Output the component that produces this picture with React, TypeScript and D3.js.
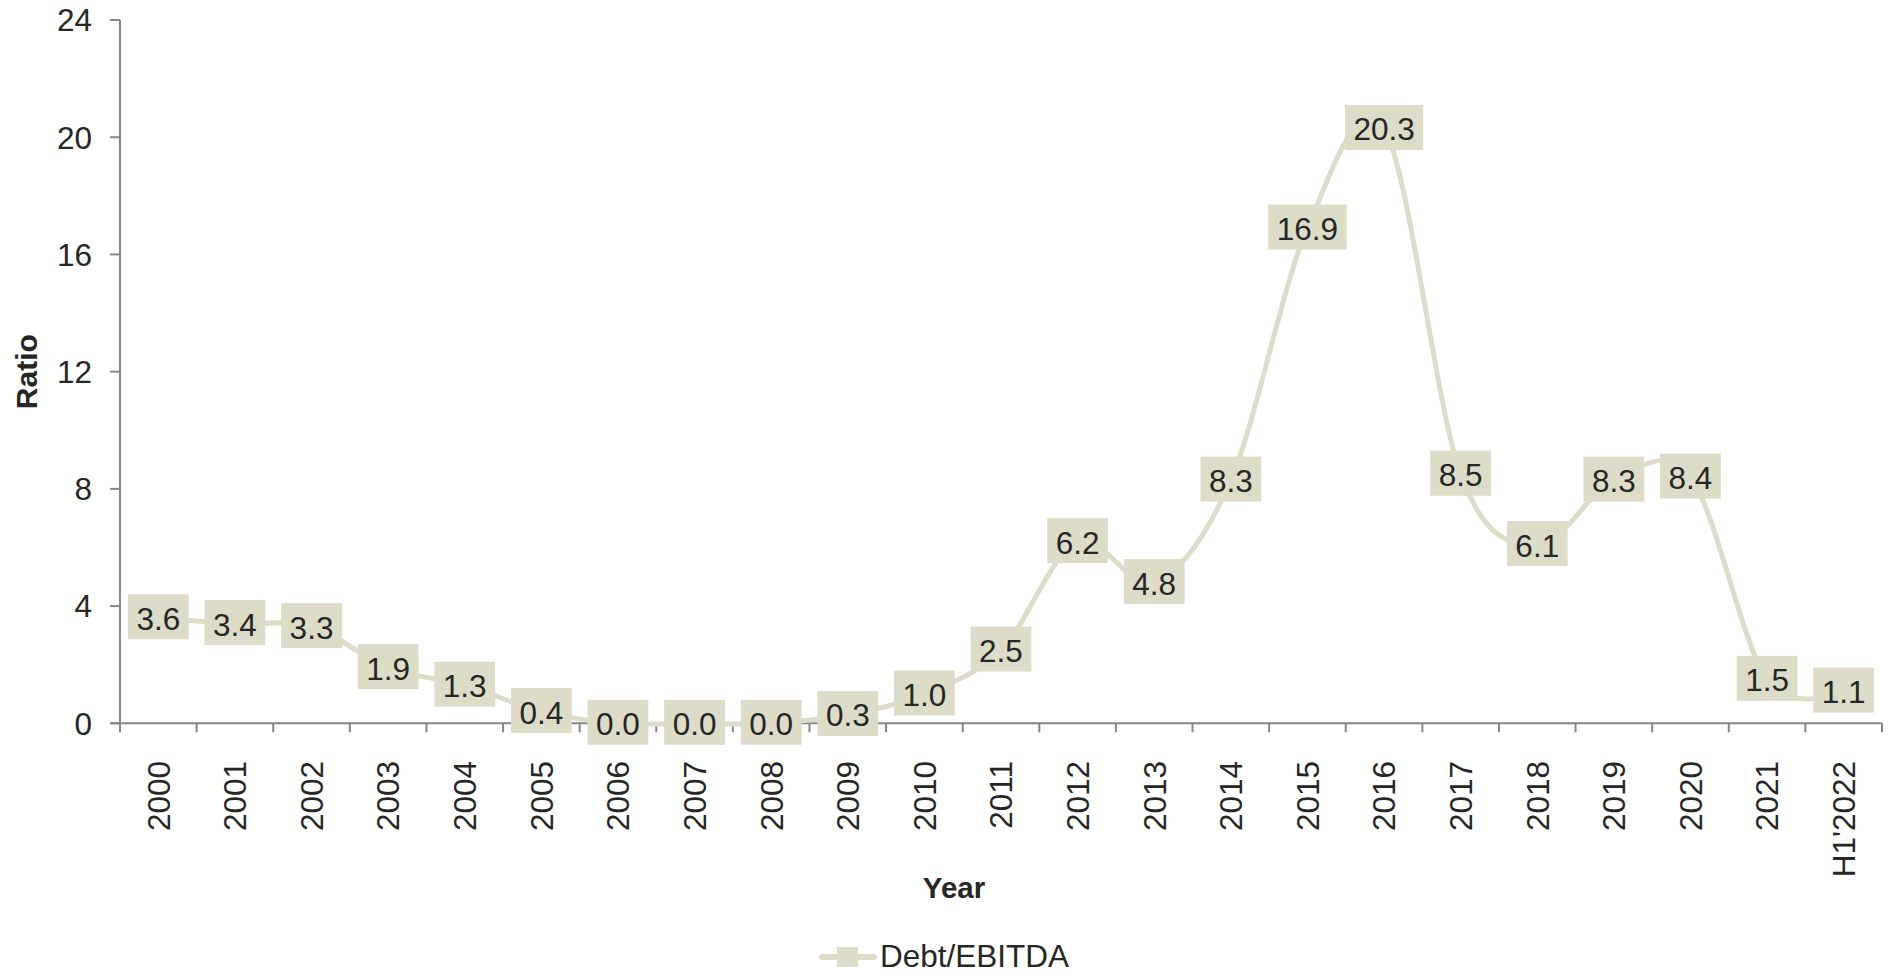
import React from "react";
import * as d3 from "d3";

const categories = ["2000","2001","2002","2003","2004","2005","2006","2007","2008","2009","2010","2011","2012","2013","2014","2015","2016","2017","2018","2019","2020","2021","H1'2022"];
const debtEbitda = [3.6,3.4,3.3,1.9,1.3,0.4,0.0,0.0,0.0,0.3,1.0,2.5,6.2,4.8,8.3,16.9,20.3,8.5,6.1,8.3,8.4,1.5,1.1];
const yTicks = [0,4,8,12,16,20,24];
const seriesName = "Debt/EBITDA";

const W = 1891, H = 973;
const left = 120, right = 1882, top = 20, bottom = 723.3;
const FS = 31.5;
const FONT = "'Liberation Sans', Arial, sans-serif";
const SERIES = "#dcdcc8";
const AXIS = "#868686";
const TEXT = "#262626";

export default function App() {
  const x = d3.scaleBand<string>().domain(categories).range([left, right]).padding(0);
  const y = d3.scaleLinear().domain([0, 24]).range([bottom, top]);
  const cx = (c: string) => (x(c) as number) + x.bandwidth() / 2;
  const line = d3.line<number>()
    .x((_, i) => cx(categories[i]))
    .y((d) => y(d))
    .curve(d3.curveCardinal.tension(0));
  const labelW = (s: string) => {
    let w = 0;
    for (const ch of s) w += ch === "." ? 0.278 : 0.556;
    return w * FS + 17;
  };
  const boxH = 45;
  const tickXs = categories.map((c) => x(c) as number).concat([right]);
  return (
    <svg width={W} height={H} style={{ position: "absolute", left: 0, top: 0, display: "block" }} fontFamily={FONT}>
      <rect x={0} y={0} width={W} height={H} fill="#fff" />
      {/* y axis */}
      <line x1={left} x2={left} y1={top} y2={bottom + 9} stroke={AXIS} strokeWidth={2} />
      {yTicks.map((t) => (
        <g key={t}>
          <line x1={left - 10} x2={left} y1={y(t)} y2={y(t)} stroke={AXIS} strokeWidth={2} />
          <text x={92} y={y(t)} dy="0.36em" textAnchor="end" fontSize={FS} fill={TEXT}>{t}</text>
        </g>
      ))}
      {/* x axis */}
      <line x1={left - 10} x2={right} y1={bottom} y2={bottom} stroke={AXIS} strokeWidth={2} />
      {tickXs.map((tx, i) => (
        <line key={i} x1={tx} x2={tx} y1={bottom} y2={bottom + 9} stroke={AXIS} strokeWidth={2} />
      ))}
      {categories.map((c) => (
        <text key={c} transform={`translate(${cx(c)},761) rotate(-90)`} dy="0.36em" textAnchor="end" fontSize={FS} fill={TEXT}>{c}</text>
      ))}
      {/* axis titles */}
      <text transform={`translate(26,${(top + bottom) / 2}) rotate(-90)`} dy="0.36em" textAnchor="middle" fontSize={30} fontWeight="bold" fill={TEXT}>Ratio</text>
      <text x={954} y={898} textAnchor="middle" fontSize={29.5} fontWeight="bold" fill={TEXT}>Year</text>
      {/* series line */}
      <path d={line(debtEbitda) || ""} fill="none" stroke={SERIES} strokeWidth={5} />
      {debtEbitda.map((v, i) => {
        const s = v.toFixed(1);
        const w = labelW(s);
        const px = cx(categories[i]);
        const py = y(v);
        return (
          <g key={i}>
            <rect x={px - w / 2} y={py - boxH / 2 - 1} width={w} height={boxH} fill={SERIES} />
            <text x={px} y={py} dy="0.38em" textAnchor="middle" fontSize={FS} fill={TEXT}>{s}</text>
          </g>
        );
      })}
      {/* legend */}
      <line x1={822} x2={874} y1={957} y2={957} stroke={SERIES} strokeWidth={6} strokeLinecap="round" />
      <rect x={837} y={947} width={21} height={20} fill={SERIES} />
      <text x={880} y={967} fontSize={FS} fill={TEXT}>{seriesName}</text>
    </svg>
  );
}
